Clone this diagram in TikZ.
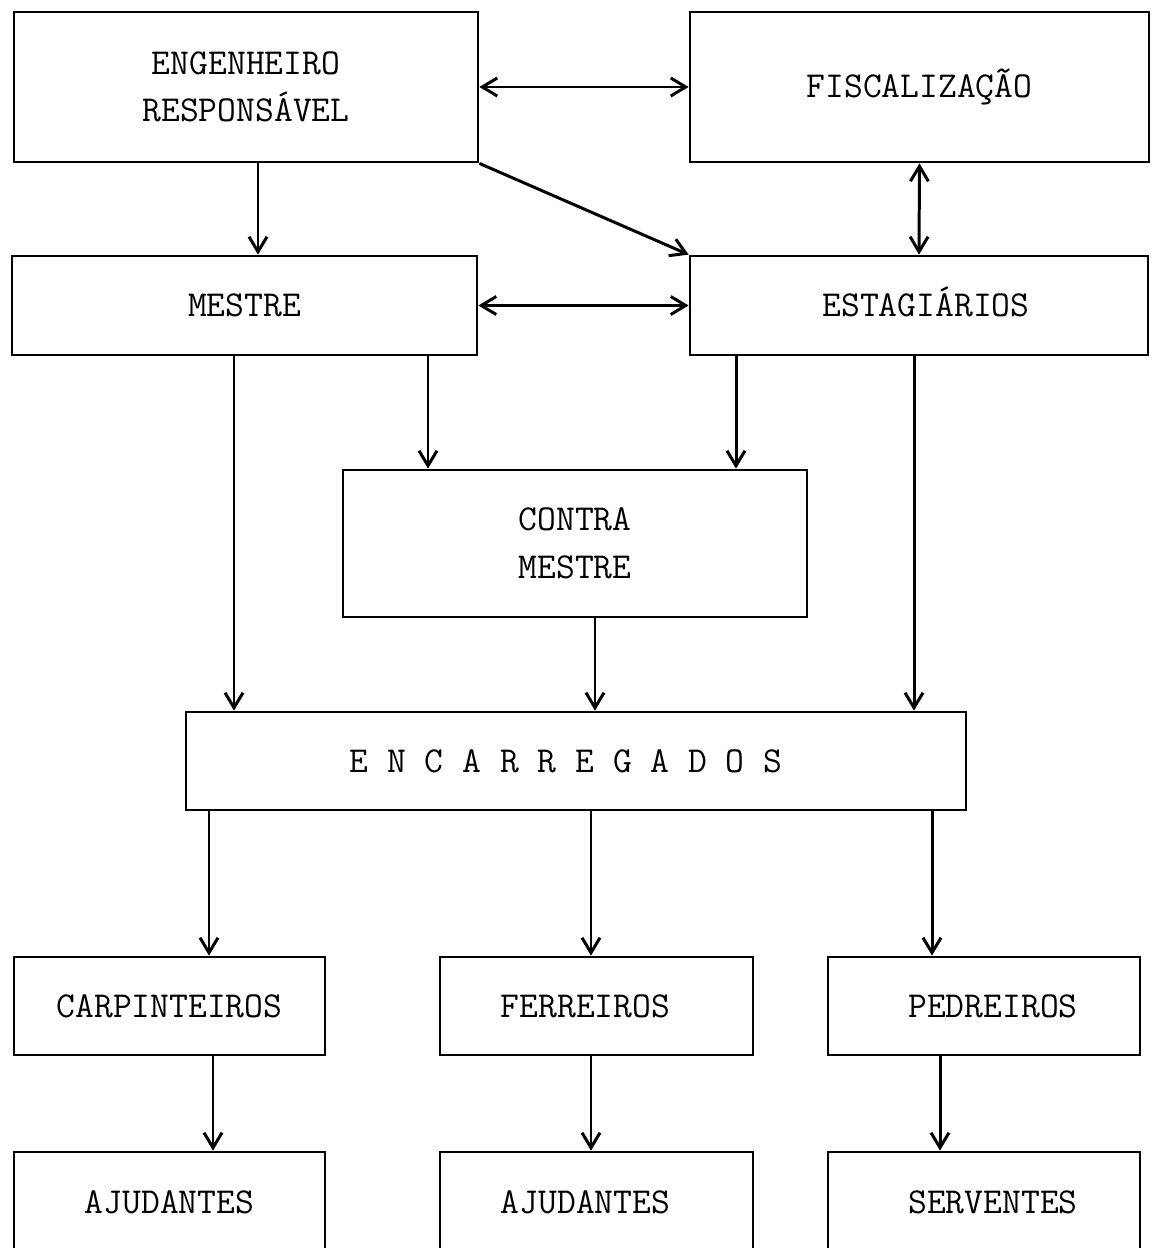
\documentclass[tikz,border=0pt]{standalone}
\usepackage{tikz}
\usetikzlibrary{arrows,arrows.meta,positioning,calc}

\begin{document}
\begin{tikzpicture}[x=0.02cm,y=-0.02cm,
  box/.style={draw, line width=1.6pt, inner sep=0pt, align=center,
    font=\ttfamily\fontsize{20.8}{27}\selectfont},
  link/.style={line width=1.7pt, >={Straight Barb[length=0.3cm,width=0.36cm]}}]
\clip (0,0) rectangle (1162,1248);
% top row
\node[box, minimum width=9.28cm, minimum height=3cm] (eng) at (246,87) {ENGENHEIRO\\RESPONSÁVEL};
\node[box, minimum width=9.18cm, minimum height=3cm] (fisc) at (919.5,87) {\raisebox{-0.1cm}{FISCALIZAÇÃO}};
\node[box, minimum width=9.3cm, minimum height=1.98cm] (mestre) at (244.5,305.5) {MESTRE};
\node[box, minimum width=9.16cm, minimum height=1.98cm] (estag) at (919,305.5) {\hspace*{0.28cm}ESTAGI\smash{Á}RIOS};
\node[box, minimum width=9.28cm, minimum height=2.94cm] (contra) at (575,543.5) {CONTRA\\MESTRE};
\node[box, minimum width=15.6cm, minimum height=1.96cm] (encarr) at (576,761) {E N C A R R E G A D O S\hspace*{0.4cm}};
% trades
\node[box, minimum width=6.22cm, minimum height=1.96cm] (carp) at (169.5,1006) {CARPINTEIROS};
\node[box, minimum width=6.26cm, minimum height=1.96cm] (ferr) at (596.5,1006) {FERREIROS\hspace*{0.44cm}};
\node[box, minimum width=6.24cm, minimum height=1.96cm] (pedr) at (984,1006) {\hspace*{0.36cm}PEDREIROS};
\node[box, minimum width=6.22cm, minimum height=2cm] (ajudA) at (169.5,1202) {AJUDANTES};
\node[box, minimum width=6.26cm, minimum height=2cm] (ajudB) at (596.5,1202) {AJUDANTES\hspace*{0.44cm}};
\node[box, minimum width=6.24cm, minimum height=2cm] (serv) at (984,1202) {\hspace*{0.36cm}SERVENTES};

\draw[link,<->] (eng.east) -- (fisc.west);
\draw[link,<->] (fisc.south) -- (estag.north);
\draw[link,->] (eng.south -| 258,0) -- (mestre.north -| 258,0);
\draw[link,->] (eng.south east) -- (estag.north west);
\draw[link,<->] (mestre.east) -- (estag.west);
\draw[link,->] (mestre.south -| 234,0) -- (encarr.north -| 234,0);
\draw[link,->] (mestre.south -| 428,0) -- (contra.north -| 428,0);
\draw[link,->] (estag.south -| 736,0) -- (contra.north -| 736,0);
\draw[link,->] (estag.south -| 914,0) -- (encarr.north -| 914,0);
\draw[link,->] (contra.south -| 595,0) -- (encarr.north -| 595,0);
\draw[link,->] (encarr.south -| 209,0) -- (carp.north -| 209,0);
\draw[link,->] (encarr.south -| 591,0) -- (ferr.north -| 591,0);
\draw[link,->] (encarr.south -| 932,0) -- (pedr.north -| 932,0);
\draw[link,->] (carp.south -| 213,0) -- (ajudA.north -| 213,0);
\draw[link,->] (ferr.south -| 591,0) -- (ajudB.north -| 591,0);
\draw[link,->] (pedr.south -| 940,0) -- (serv.north -| 940,0);
\end{tikzpicture}
\end{document}
